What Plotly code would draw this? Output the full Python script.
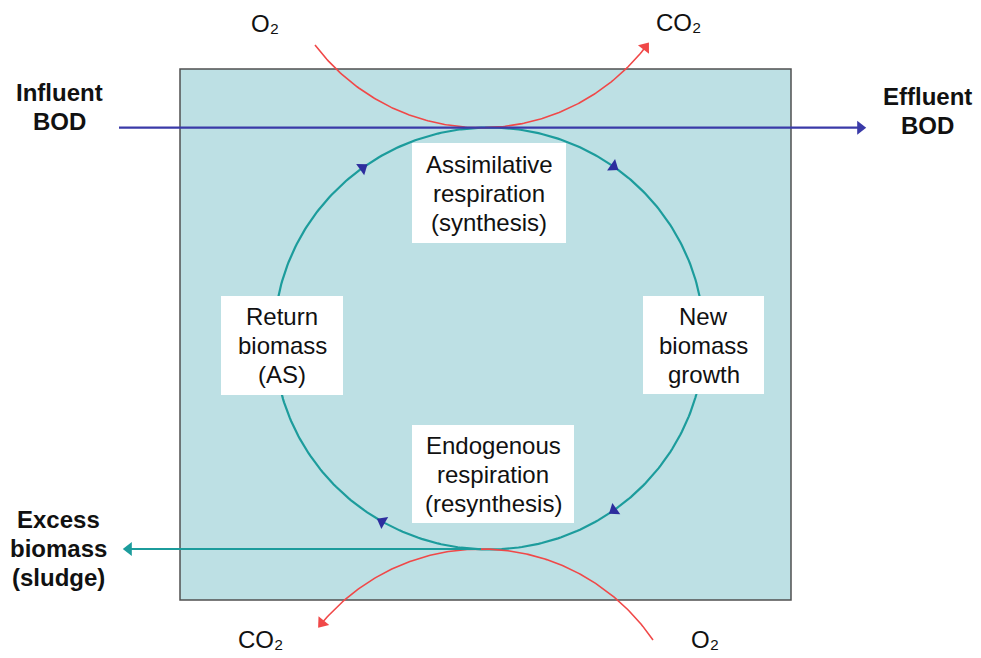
import numpy as np
import plotly.graph_objects as go

W, H = 981, 658

# ---- text content ----
box_top_lines = ["Assimilative", "respiration", "(synthesis)"]
box_left_lines = ["Return", "biomass", "(AS)"]
box_right_lines = ["New", "biomass", "growth"]
box_bottom_lines = ["Endogenous", "respiration", "(resynthesis)"]
influent_lines = ["Influent", "BOD"]
effluent_lines = ["Effluent", "BOD"]
excess_lines = ["Excess", "biomass", "(sludge)"]
gas_labels = ["O₂", "CO₂", "CO₂", "O₂"]

# ---- geometry (pixel coordinates, y downward) ----
tank = (180, 791, 69, 600)
cycle_cx, cycle_cy, cycle_rx, cycle_ry = 489, 338.5, 215, 211
cycle_arrow_t = [-126, -54.6, 54.5, 119.8]  # parametric angles (deg)
text_boxes = [(412, 566, 143, 243), (221, 343, 296, 395),
              (643, 764, 296, 394), (412, 574, 425, 523)]
gas_pos = [(265, 23), (678, 22), (260, 639), (705, 639)]
red_r = 208
touch_x = 481
influent_y, bottom_y = 127.7, 549

BLUE = "#3A3AA8"
TEAL = "#1C9C9C"
RED = "#F04848"
ARROW = "#2D2D9E"
TANK = "#BDE0E4"
FONT = "Liberation Sans, Arial, sans-serif"

fig = go.Figure()

def head(x, y, dx, dy, color, size):
    """Arrowhead marker whose tip sits at (x, y), pointing along (dx, dy)."""
    n = np.hypot(dx, dy)
    ux, uy = dx / n, dy / n
    off = 0.65 * size
    fig.add_trace(go.Scatter(x=[x - ux * off], y=[y - uy * off], mode="markers",
                             marker=dict(symbol="triangle-up", size=size, color=color,
                                         angle=float(np.degrees(np.arctan2(ux, -uy))),
                                         line=dict(width=0)), hoverinfo="skip"))

# cycle ellipse
t = np.linspace(0, 2 * np.pi, 400)
fig.add_trace(go.Scatter(x=cycle_cx + cycle_rx * np.cos(t), y=cycle_cy + cycle_ry * np.sin(t),
                         mode="lines", line=dict(color=TEAL, width=2.2), hoverinfo="skip"))

# cycle arrows (clockwise)
ta = np.radians(cycle_arrow_t)
ax_ = cycle_cx + cycle_rx * np.cos(ta)
ay_ = cycle_cy + cycle_ry * np.sin(ta)
dx = -cycle_rx * np.sin(ta)
dy = cycle_ry * np.cos(ta)
angles = np.degrees(np.arctan2(dx, -dy))
fig.add_trace(go.Scatter(x=ax_, y=ay_, mode="markers",
                         marker=dict(symbol="triangle-up", size=12, color=ARROW, angle=angles,
                                     line=dict(width=0)), hoverinfo="skip"))

# red arcs
top_cy = influent_y - red_r
xs = np.linspace(315, 650, 200)
ys = top_cy + np.sqrt(red_r ** 2 - (xs - touch_x) ** 2)
fig.add_trace(go.Scatter(x=xs[:-2], y=ys[:-2], mode="lines", line=dict(color=RED, width=1.6), hoverinfo="skip"))
head(xs[-1], ys[-1], xs[-1] - xs[-5], ys[-1] - ys[-5], RED, 12)
bot_cy = bottom_y + red_r
xb = np.linspace(653, 317, 200)
yb = bot_cy - np.sqrt(red_r ** 2 - (xb - touch_x) ** 2)
fig.add_trace(go.Scatter(x=xb[:-2], y=yb[:-2], mode="lines", line=dict(color=RED, width=1.6), hoverinfo="skip"))
head(xb[-1], yb[-1], xb[-1] - xb[-5], yb[-1] - yb[-5], RED, 12)

# horizontal lines
fig.add_trace(go.Scatter(x=[119, 862], y=[influent_y, influent_y], mode="lines",
                         line=dict(color=BLUE, width=2.2), hoverinfo="skip"))
head(868, influent_y, 1, 0, BLUE, 12)
fig.add_trace(go.Scatter(x=[touch_x, 127], y=[bottom_y, bottom_y], mode="lines",
                         line=dict(color=TEAL, width=2.2), hoverinfo="skip"))
head(121, bottom_y, -1, 0, TEAL, 12)

annotations = []
shapes = [dict(type="rect", x0=tank[0], x1=tank[1], y0=tank[2], y1=tank[3], xref="x", yref="y",
               fillcolor=TANK, line=dict(color="#505050", width=1.5), layer="below")]
for (x0, x1, y0, y1) in text_boxes:
    shapes.append(dict(type="rect", x0=x0, x1=x1, y0=y0, y1=y1, xref="x", yref="y",
                       fillcolor="white", line=dict(width=0), layer="above"))

def lines_at(lines, cx, cy, spacing=29, size=24, bold=False):
    n = len(lines)
    for i, s in enumerate(lines):
        yy = cy + (i - (n - 1) / 2) * spacing
        annotations.append(dict(x=cx, y=yy, xref="x", yref="y", text=f"<b>{s}</b>" if bold else s,
                                showarrow=False, xanchor="center", yanchor="middle",
                                font=dict(family=FONT, size=size, color="#111111")))

for lines, (x0, x1, y0, y1) in zip([box_top_lines, box_left_lines, box_right_lines, box_bottom_lines], text_boxes):
    lines_at(lines, (x0 + x1) / 2, (y0 + y1) / 2)

lines_at(influent_lines, 59, 107, bold=True)
lines_at(effluent_lines, 927, 111, bold=True)
lines_at(excess_lines, 58, 548, bold=True)
for lab, (gx, gy) in zip(gas_labels, gas_pos):
    lines_at([lab], gx, gy)

fig.update_layout(width=W, height=H, margin=dict(l=0, r=0, t=0, b=0),
                  paper_bgcolor="white", plot_bgcolor="white", showlegend=False,
                  shapes=shapes, annotations=annotations)
fig.update_xaxes(range=[0, W], visible=False, fixedrange=True)
fig.update_yaxes(range=[H, 0], visible=False, fixedrange=True)

fig.write_html("out.html", config={"displayModeBar": False},
               post_script="document.body.style.margin='0';")
